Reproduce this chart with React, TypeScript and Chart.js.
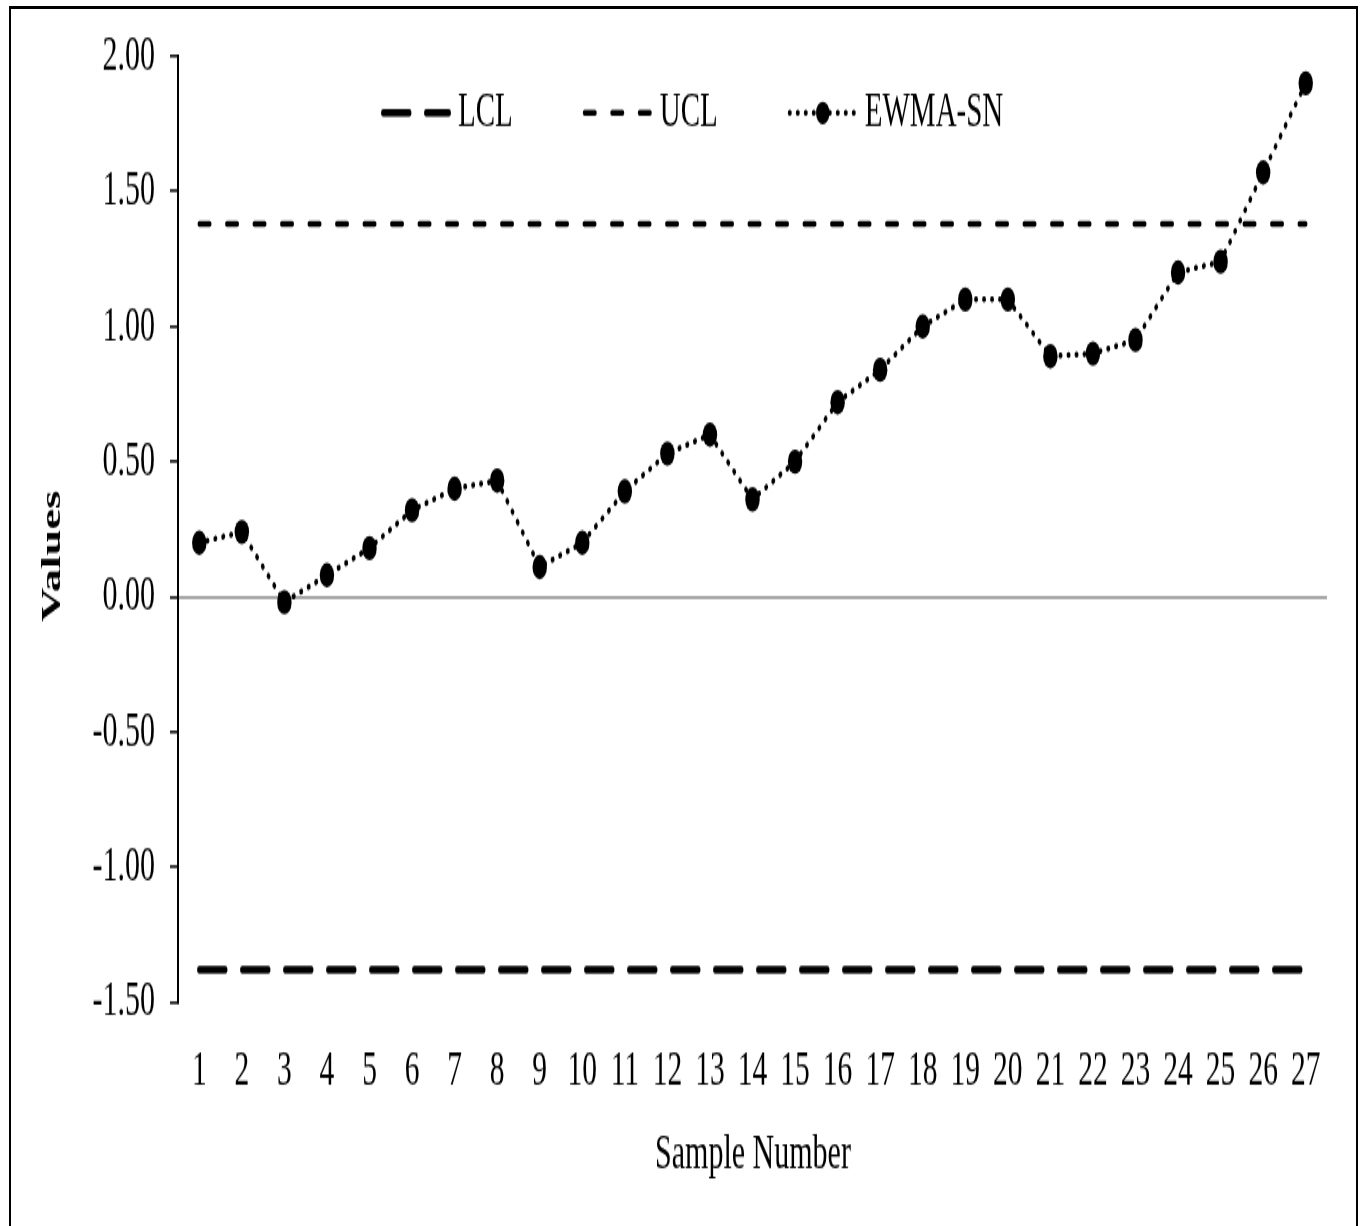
import React, { useEffect, useRef } from 'react';
import { Chart, registerables } from 'chart.js';

Chart.register(...registerables);

// The reference picture is vertically stretched; we draw at 720px height and stretch by S.
const S = 1226 / 720;

const sampleNumbers = ['1','2','3','4','5','6','7','8','9','10','11','12','13','14','15','16','17','18','19','20','21','22','23','24','25','26','27'];
const ewmaSN = [0.20, 0.24, -0.02, 0.08, 0.18, 0.32, 0.40, 0.43, 0.11, 0.20, 0.39, 0.53, 0.60, 0.36, 0.50, 0.72, 0.84, 1.00, 1.10, 1.10, 0.89, 0.90, 0.95, 1.20, 1.24, 1.57, 1.90];
const LCL_VALUE = -1.38;
const UCL_VALUE = 1.38;
const lcl = sampleNumbers.map(() => LCL_VALUE);
const ucl = sampleNumbers.map(() => UCL_VALUE);
const yTickValues = [-1.5, -1.0, -0.5, 0, 0.5, 1.0, 1.5, 2.0];

const SERIF = '"Liberation Serif", "Times New Roman", serif';

const overlayPlugin = {
  id: 'overlay',
  afterDraw(chart: any) {
    const ctx = chart.ctx as CanvasRenderingContext2D;
    ctx.save();
    ctx.fillStyle = '#000';
    ctx.strokeStyle = '#000';
    // Legend
    ctx.font = `29px ${SERIF}`;
    ctx.textBaseline = 'middle';
    ctx.textAlign = 'left';
    const ly = 113 / S;
    let x = 381;
    const len = 70;
    chart.data.datasets.forEach((ds: any) => {
      ctx.save();
      ctx.lineWidth = ds.borderWidth;
      ctx.lineCap = 'round';
      ctx.setLineDash(ds.borderDash || []);
      ctx.beginPath();
      ctx.moveTo(x + ds.borderWidth / 2, ly);
      ctx.lineTo(x + len - ds.borderWidth / 2, ly);
      ctx.stroke();
      ctx.restore();
      if (ds.pointRadius > 0) {
        ctx.beginPath();
        ctx.arc(x + len / 2, ly, ds.pointRadius - 0.5, 0, Math.PI * 2);
        ctx.fill();
      }
      const tx = x + len + 7;
      ctx.fillText(ds.label, tx, ly);
      x = tx + ctx.measureText(ds.label).width + 70;
    });
    // Axis titles
    ctx.font = `30px ${SERIF}`;
    ctx.textAlign = 'center';
    ctx.fillText('Sample Number', 753, 1155 / S);
    ctx.save();
    ctx.font = `bold 27.5px ${SERIF}`;
    ctx.translate(53, 556 / S);
    ctx.rotate(-Math.PI / 2);
    ctx.fillText('Values', 0, 0);
    ctx.restore();
    ctx.restore();
  },
};

export default function App() {
  const canvasRef = useRef<HTMLCanvasElement | null>(null);

  useEffect(() => {
    document.body.style.margin = '0';
    document.body.style.overflow = 'hidden';
    const canvas = canvasRef.current;
    if (!canvas) return;
    const chartTop = 53.7 / S - 1.46;
    const chartBottom = 1002.2 / S;
    const chart = new Chart(canvas, {
      type: 'line',
      data: {
        labels: sampleNumbers,
        datasets: [
          {
            label: 'LCL',
            data: lcl,
            borderColor: '#000',
            borderWidth: 4.5,
            borderDash: [26, 17],
            borderCapStyle: 'round',
            pointRadius: 0,
            fill: false,
            order: 1,
          },
          {
            label: 'UCL',
            data: ucl,
            borderColor: '#000',
            borderWidth: 3.5,
            borderDash: [10.5, 17],
            borderCapStyle: 'round',
            pointRadius: 0,
            fill: false,
            order: 1,
          },
          {
            label: 'EWMA-SN',
            data: ewmaSN,
            borderColor: '#000',
            borderWidth: 3.5,
            borderDash: [0.5, 7.5],
            borderCapStyle: 'round',
            pointRadius: 7.2,
            pointBackgroundColor: '#000',
            pointBorderWidth: 0,
            pointHoverRadius: 7.2,
            fill: false,
            order: 0,
          },
        ] as any,
      },
      options: {
        animation: false,
        responsive: false,
        maintainAspectRatio: false,
        devicePixelRatio: 1,
        events: [],
        layout: {
          padding: { left: 0, right: 35, top: chartTop, bottom: 0 },
        },
        plugins: {
          legend: { display: false },
          tooltip: { enabled: false },
          title: { display: false },
        },
        scales: {
          x: {
            type: 'category',
            offset: true,
            grid: { display: false },
            border: { display: false },
            ticks: {
              color: '#000',
              font: { family: SERIF, size: 29.5 },
              padding: 14.5,
              autoSkip: false,
              maxRotation: 0,
              minRotation: 0,
            },
            afterFit: (scale: any) => {
              scale.height = 720 - chartBottom;
            },
          },
          y: {
            min: -1.5,
            max: 2.0,
            afterBuildTicks: (scale: any) => {
              scale.ticks = yTickValues.map((v) => ({ value: v }));
            },
            afterFit: (scale: any) => {
              scale.width = 178;
            },
            grid: {
              drawOnChartArea: true,
              drawTicks: true,
              tickLength: 8,
              tickColor: '#000',
              tickWidth: 1.5,
              color: (c: any) => (c.tick && c.tick.value === 0 ? '#9a9a9a' : 'rgba(0,0,0,0)'),
              lineWidth: 1.8,
            },
            border: { display: true, color: '#000', width: 2 },
            ticks: {
              color: '#000',
              font: { family: SERIF, size: 30 },
              padding: 15,
              callback: (v: any) => Number(v).toFixed(2),
            },
          },
        },
      } as any,
      plugins: [overlayPlugin],
    });
    return () => {
      chart.destroy();
    };
  }, []);

  return (
    <div style={{ position: 'relative', width: 1362, height: 1226, overflow: 'hidden', background: '#fff' }}>
      <div
        style={{
          position: 'absolute',
          left: 9,
          top: 6,
          width: 1349,
          height: 1220,
          boxSizing: 'border-box',
          borderTop: '3px solid #000',
          borderLeft: '2.5px solid #000',
          borderRight: '2.5px solid #000',
        }}
      />
      <div
        style={{
          position: 'absolute',
          left: 0,
          top: 0,
          width: 1362,
          height: 720,
          transform: `scaleY(${S})`,
          transformOrigin: '0 0',
        }}
      >
        <canvas ref={canvasRef} width={1362} height={720} style={{ display: 'block', width: 1362, height: 720 }} />
      </div>
    </div>
  );
}
